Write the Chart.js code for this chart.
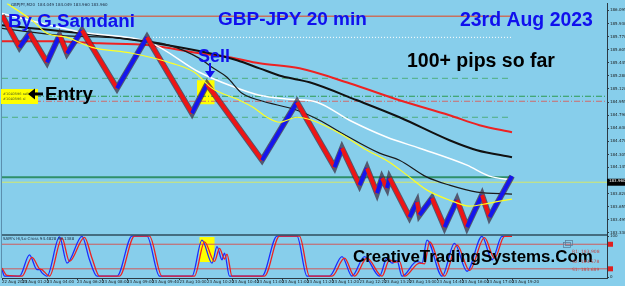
<!DOCTYPE html>
<html>
<head>
<meta charset="utf-8">
<script src="https://cdn.jsdelivr.net/npm/chart.js@4.4.0/dist/chart.umd.min.js"></script>
<style>
  html, body { margin: 0; padding: 0; background: #87ceeb; overflow: hidden; }
</style>
</head>
<body>
<canvas id="renkoChart" width="625" height="286"></canvas>
<script>
// renko turning points (bar index / price)
const renkoIdx = [0, 7, 11, 18, 23, 26, 32, 46, 58, 76, 82, 104, 118, 133, 136, 143, 146, 150, 152, 154, 155, 163, 166, 167, 172, 177, 182, 186, 192, 195, 204];
const renkoPrice = [186.033, 185.636, 185.810, 185.450, 185.785, 185.562, 185.847, 185.127, 185.760, 184.817, 185.177, 184.234, 184.954, 184.147, 184.383, 183.924, 184.135, 183.825, 184.011, 183.887, 184.011, 183.527, 183.713, 183.552, 183.762, 183.403, 183.738, 183.403, 183.800, 183.527, 184.036];

// moving averages
const maRedIdx = [0, 19, 39, 59, 79, 91, 103, 119, 139, 159, 179, 191, 204];
const maRedVal = [185.710, 185.710, 185.686, 185.661, 185.562, 185.512, 185.437, 185.375, 185.189, 184.978, 184.792, 184.668, 184.581];
const maBlackIdx = [0, 32, 59, 83, 94, 103, 112, 123, 142, 159, 179, 190, 204];
const maBlackVal = [185.909, 185.810, 185.698, 185.562, 185.475, 185.375, 185.276, 185.202, 184.978, 184.767, 184.482, 184.358, 184.271];
const maWhiteIdx = [0, 32, 59, 79, 91, 103, 115, 126, 139, 154, 167, 186, 195, 204];
const maWhiteVal = [186.058, 185.822, 185.698, 185.326, 185.164, 185.040, 184.991, 184.954, 184.730, 184.519, 184.383, 184.172, 184.036, 183.986];
const maThinIdx = [0, 23, 47, 67, 79, 84, 90, 96, 103, 118, 127, 136, 151, 159, 170, 179, 190, 204];
const maThinVal = [185.872, 185.785, 185.748, 185.661, 185.499, 185.388, 185.264, 185.065, 184.978, 184.854, 184.730, 184.569, 184.321, 184.234, 184.023, 183.924, 183.837, 183.812];
const maYellowIdx = [2, 12, 18, 26, 36, 52, 68, 77, 84, 95, 101, 106, 111, 118, 124, 135, 146, 155, 162, 170, 179, 187, 195, 204];
const maYellowVal = [186.182, 185.971, 185.810, 185.760, 185.636, 185.562, 185.437, 185.326, 185.127, 184.978, 184.879, 184.767, 184.705, 184.767, 184.730, 184.569, 184.358, 184.209, 184.048, 183.862, 183.738, 183.663, 183.701, 183.750];

// horizontal levels on the price panel
const levelPrice = [186.021, 185.760, 185.251, 185.028, 184.966, 184.767, 184.023, 183.960];
const levelFrom = [0, 58, 0, 0, 0, 0, 0, 0];
const levelTo = [204, 204, 204, 242, 242, 204, 204, 242];
const currentPrice = 183.960;

// oscillator (SAM's Hi/Lo Cross)
const oscBlueIdx = [0, 1, 7, 11, 14, 15, 16, 18, 23, 26, 32, 35, 38, 46, 52, 58, 63, 76, 80, 84, 86, 88, 89, 91, 104, 110, 118, 122, 131, 136, 140, 145, 151, 154, 156, 158, 160, 166, 168, 170, 176, 181, 186, 192, 196, 200, 204];
const oscBlueVal = [18, 2, 2, 54, 18, 18, 10, 2, 98, 34, 99, 42, 2, 2, 100, 100, 2, 2, 90, 34, 74, 42, 58, 2, 2, 100, 100, 2, 2, 50, 2, 50, 2, 46, 34, 40, 2, 38, 34, 90, 2, 82, 14, 99, 42, 99, 99];
const oscRedIdx = [0, 2, 8, 12, 15, 16, 17, 19, 24, 27, 33, 36, 39, 47, 53, 59, 64, 77, 81, 85, 87, 89, 90, 92, 105, 111, 119, 123, 132, 137, 141, 146, 152, 155, 157, 159, 161, 167, 169, 171, 177, 182, 187, 193, 197, 201, 204];
const oscRedVal = [22, 4, 2, 48, 20, 18, 12, 2, 95, 38, 97, 46, 2, 2, 100, 100, 2, 2, 86, 38, 70, 44, 56, 2, 2, 100, 100, 2, 2, 46, 2, 46, 2, 42, 36, 38, 2, 34, 32, 86, 2, 78, 16, 96, 46, 99, 99];
const oscLevels = [80, 20];

// highlight boxes (bar index range, value range)
const sellBoxIdx = [78, 85];
const sellBoxPrice = [184.929, 185.227];
const oscBoxIdx = [79, 85];
const oscBoxVal = [36.6, 97.6];

// axis ticks
const priceTicks = [186.095, 185.930, 185.770, 185.605, 185.445, 185.280, 185.120, 184.955, 184.790, 184.630, 184.470, 184.305, 184.145, 183.820, 183.655, 183.495, 183.330];
const xTickIdx = [0, 8, 18, 30, 40, 50, 60, 71, 82, 92, 102, 112, 122, 132, 143, 153, 163, 174, 184, 194, 204];
const xTickLabels = ['22 Aug 2023', '23 Aug 01:20', '23 Aug 04:00', '23 Aug 06:20', '23 Aug 08:00', '23 Aug 09:00', '23 Aug 09:40',
  '23 Aug 10:00', '23 Aug 10:20', '23 Aug 10:40', '23 Aug 11:00', '23 Aug 11:00', '23 Aug 11:20', '23 Aug 11:20', '23 Aug 12:20',
  '23 Aug 13:20', '23 Aug 14:00', '23 Aug 14:40', '23 Aug 16:00', '23 Aug 17:00', '23 Aug 19:20'];

const pts = (xs, ys) => xs.map((x, i) => ({ x: x, y: ys[i] }));

const levelStyle = [
  { c: '#c8705f', w: 1.5, d: [] },
  { c: '#ffffff', w: 1, d: [1, 2] },
  { c: '#4fae7f', w: 1, d: [6, 4] },
  { c: '#2e9a50', w: 1, d: [6, 2, 1, 2] },
  { c: '#d06a6a', w: 1, d: [6, 2, 1, 2] },
  { c: '#4fae7f', w: 1, d: [6, 4] },
  { c: '#2f8f6a', w: 2, d: [] },
  { c: '#d4e86a', w: 1, d: [] }
];

const datasets = [];
datasets.push({
  data: pts(renkoIdx, renkoPrice), yAxisID: 'y', order: 1, borderWidth: 4,
  borderColor: '#ee1515',
  segment: { borderColor: s => s.p1.parsed.y > s.p0.parsed.y ? '#1515ee' : '#ee1515' }
});
datasets.push({ data: pts(renkoIdx, renkoPrice), yAxisID: 'y', order: 2, borderWidth: 6, borderColor: 'rgba(60,40,60,0.7)' });
datasets.push({ data: pts(maYellowIdx, maYellowVal), yAxisID: 'y', order: 0, borderWidth: 1.2, borderColor: '#ffff22', cubicInterpolationMode: 'monotone' });
datasets.push({ data: pts(maThinIdx, maThinVal), yAxisID: 'y', order: 3, borderWidth: 1.2, borderColor: '#1a1a1a', cubicInterpolationMode: 'monotone' });
datasets.push({ data: pts(maWhiteIdx, maWhiteVal), yAxisID: 'y', order: 3, borderWidth: 1.5, borderColor: '#ffffff', cubicInterpolationMode: 'monotone' });
datasets.push({ data: pts(maBlackIdx, maBlackVal), yAxisID: 'y', order: 3, borderWidth: 2, borderColor: '#111111', cubicInterpolationMode: 'monotone' });
datasets.push({ data: pts(maRedIdx, maRedVal), yAxisID: 'y', order: 3, borderWidth: 2, borderColor: '#ee2222', cubicInterpolationMode: 'monotone' });
levelPrice.forEach((p, i) => {
  datasets.push({
    data: [{ x: levelFrom[i], y: p }, { x: levelTo[i], y: p }], yAxisID: 'y', order: 10,
    borderWidth: levelStyle[i].w, borderColor: levelStyle[i].c, borderDash: levelStyle[i].d
  });
});
oscLevels.forEach(v => {
  datasets.push({ data: [{ x: 0, y: v }, { x: 242, y: v }], yAxisID: 'y2', order: 10, borderWidth: 1, borderColor: '#d05a5a' });
});
datasets.push({ data: pts(oscBlueIdx, oscBlueVal), yAxisID: 'y2', order: 2, borderWidth: 1.3, borderColor: '#1a2cff', cubicInterpolationMode: 'monotone' });
datasets.push({ data: pts(oscRedIdx, oscRedVal), yAxisID: 'y2', order: 1, borderWidth: 1.3, borderColor: '#ee2020', cubicInterpolationMode: 'monotone' });

function fitText(c, text, x, base, w, color) {
  c.font = 'bold 20px "Liberation Sans", Arial, sans-serif';
  const size = 20 * w / c.measureText(text).width;
  c.font = 'bold ' + size.toFixed(2) + 'px "Liberation Sans", Arial, sans-serif';
  c.fillStyle = color;
  c.textAlign = 'left';
  c.textBaseline = 'alphabetic';
  c.fillText(text, x, base);
}

const deco = {
  id: 'deco',
  beforeDraw(ch) {
    const c = ch.ctx;
    c.save();
    c.fillStyle = '#87ceeb';
    c.fillRect(0, 0, ch.width, ch.height);
    c.restore();
  },
  beforeDatasetsDraw(ch) {
    const c = ch.ctx, sx = ch.scales.x;
    const box = (sc, xi, yv) => {
      const l = sx.getPixelForValue(xi[0]), r = sx.getPixelForValue(xi[1]);
      const t = sc.getPixelForValue(yv[1]), b = sc.getPixelForValue(yv[0]);
      c.fillRect(l, t, r - l, b - t);
    };
    c.save();
    c.fillStyle = '#ffff00';
    box(ch.scales.y, sellBoxIdx, sellBoxPrice);
    box(ch.scales.y2, oscBoxIdx, oscBoxVal);
    c.restore();
  },
  afterDraw(ch) {
    const c = ch.ctx, a = ch.chartArea, y = ch.scales.y, y2 = ch.scales.y2;
    c.save();
    // panel separator + left border
    c.strokeStyle = '#2e4d5c';
    c.lineWidth = 1.5;
    c.beginPath(); c.moveTo(a.left, y.bottom); c.lineTo(a.right, y.bottom); c.stroke();
    c.strokeStyle = '#5b8fae';
    c.lineWidth = 1;
    c.beginPath(); c.moveTo(1.5, 0); c.lineTo(1.5, a.bottom); c.stroke();

    // header / indicator captions
    c.font = '4px "DejaVu Sans", sans-serif';
    c.fillStyle = '#1c2a40';
    c.textBaseline = 'middle';
    c.fillText('GBPJPY,M20  184.049 184.049 183.960 183.960', 11, 4.5);
    c.fillText("SAM's Hi/Lo Cross 94.4828 98.1388", 3, y.bottom + 4);

    // entry label box
    c.fillStyle = '#ffff00';
    c.fillRect(1, 89, 37, 15);
    c.fillStyle = '#506020';
    c.font = '3.5px "DejaVu Sans", sans-serif';
    c.fillText('#1040596 sell 0.10', 3, 94);
    c.fillText('#1040596 sl', 3, 99);

    // titles
    fitText(c, 'By G.Samdani', 8, 27, 127, '#1010ee');
    fitText(c, 'GBP-JPY 20 min', 218, 25, 149, '#1010ee');
    fitText(c, '23rd Aug 2023', 460, 26, 133, '#1010ee');
    fitText(c, '100+ pips so far', 407, 67, 148, '#000000');
    fitText(c, 'Sell', 198, 62, 32, '#1010ee');
    fitText(c, 'Entry', 45, 100, 48, '#000000');
    fitText(c, 'CreativeTradingSystems.Com', 353, 262, 240, '#000000');

    // arrows
    c.strokeStyle = '#000'; c.fillStyle = '#000'; c.lineWidth = 3;
    c.beginPath(); c.moveTo(43, 94); c.lineTo(33, 94); c.stroke();
    c.beginPath(); c.moveTo(28, 94); c.lineTo(35, 88.5); c.lineTo(35, 99.5); c.closePath(); c.fill();
    c.strokeStyle = '#1010ee'; c.fillStyle = '#1010ee'; c.lineWidth = 2;
    c.beginPath(); c.moveTo(210, 63); c.lineTo(210, 73); c.stroke();
    c.beginPath(); c.moveTo(210, 78); c.lineTo(205, 71); c.lineTo(215, 71); c.closePath(); c.fill();

    // pivot texts and window icon in the lower panel
    c.strokeStyle = '#5d7f9c'; c.lineWidth = 0.8;
    c.strokeRect(565.5, 240.5, 7, 5);
    c.strokeRect(563.5, 242.5, 7, 5);
    c.font = '4.5px "DejaVu Sans", sans-serif';
    c.fillStyle = '#c04848';
    c.fillText('R1: 183.908', 572, 253);
    c.fillText('S2: 183.578', 572, 263);
    c.fillText('S1: 183.689', 572, 271);

    // current price box on the axis
    const py = y.getPixelForValue(currentPrice);
    c.fillStyle = '#000';
    c.fillRect(a.right, py - 3.5, 625 - a.right, 7);
    c.fillStyle = '#fff';
    c.font = '4px "DejaVu Sans", sans-serif';
    c.fillText(currentPrice.toFixed(3), a.right + 2, py);
    // oscillator level markers
    c.fillStyle = '#e02020';
    oscLevels.forEach(v => {
      const ly = y2.getPixelForValue(v);
      c.fillRect(a.right + 1, ly - 2.5, 5, 5);
    });
    c.restore();
  }
};

new Chart(document.getElementById('renkoChart').getContext('2d'), {
  type: 'line',
  data: { datasets: datasets },
  options: {
    responsive: false,
    animation: false,
    layout: { padding: { top: 3, left: 2, right: 0, bottom: 0 } },
    elements: { point: { radius: 0 }, line: { tension: 0 } },
    plugins: { legend: { display: false }, tooltip: { enabled: false } },
    scales: {
      x: {
        type: 'linear', min: 0, max: 242,
        afterBuildTicks: s => { s.ticks = xTickIdx.map(v => ({ value: v })); },
        afterFit: s => { s.height = 8; },
        grid: { drawOnChartArea: false, tickLength: 2, color: '#2b3a44' },
        border: { color: '#2b3a44' },
        ticks: { autoSkip: false, maxRotation: 0, align: 'start', padding: 0, color: '#1a1a1a',
          font: { size: 4, family: '"DejaVu Sans", sans-serif' },
          callback: (v, i) => xTickLabels[i] }
      },
      y: {
        type: 'linear', position: 'right', stack: 'panels', stackWeight: 232,
        min: 183.3035, max: 186.1818,
        afterBuildTicks: s => { s.ticks = priceTicks.map(v => ({ value: v })); },
        afterFit: s => { s.width = 18; },
        grid: { drawOnChartArea: false, tickLength: 2, color: '#2b3a44' },
        border: { color: '#2b3a44' },
        ticks: { autoSkip: false, padding: 1, color: '#1a1a1a', font: { size: 4, family: '"DejaVu Sans", sans-serif' },
          callback: v => v.toFixed(3) }
      },
      y2: {
        type: 'linear', position: 'right', stack: 'panels', stackWeight: 43,
        min: -2.44, max: 102.44,
        afterBuildTicks: s => { s.ticks = [{ value: 0 }, { value: 100 }]; },
        afterFit: s => { s.width = 18; },
        grid: { drawOnChartArea: false, tickLength: 2, color: '#2b3a44' },
        border: { color: '#2b3a44' },
        ticks: { autoSkip: false, padding: 1, color: '#1a1a1a', font: { size: 4, family: '"DejaVu Sans", sans-serif' } }
      }
    }
  },
  plugins: [deco]
});
</script>
</body>
</html>
